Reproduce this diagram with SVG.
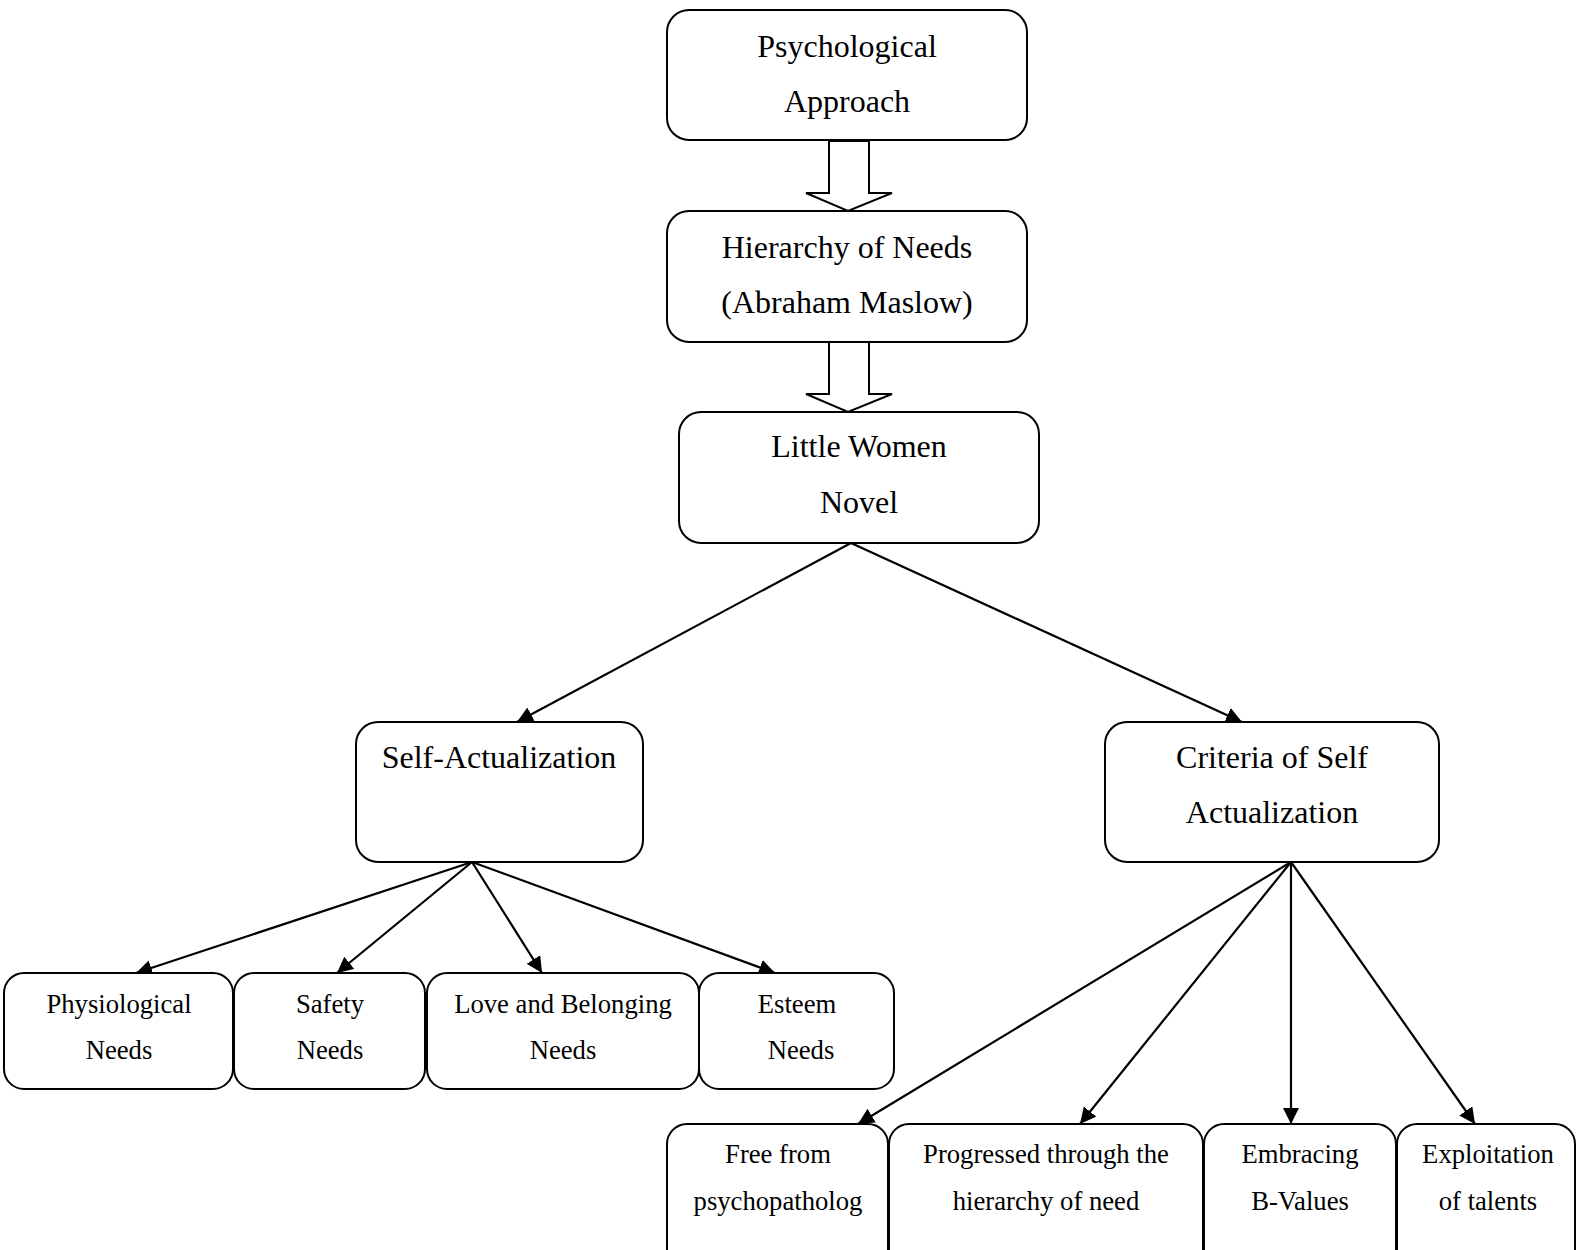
<svg xmlns="http://www.w3.org/2000/svg" width="1576" height="1250" viewBox="0 0 1576 1250">
<style>
.box{fill:#fff;stroke:#000;stroke-width:2}
.big{font-family:"Liberation Serif","Times New Roman",serif;font-size:32px;fill:#000;text-anchor:middle}
.sm{font-family:"Liberation Serif","Times New Roman",serif;font-size:26.67px;fill:#000;text-anchor:middle}
.ln{stroke:#000;stroke-width:2.2;fill:none;marker-end:url(#ah)}
.hollow{fill:#fff;stroke:#000;stroke-width:2}
</style>
<defs>
<marker id="ah" markerUnits="userSpaceOnUse" markerWidth="18" markerHeight="18" refX="16" refY="8" orient="auto">
<path d="M0,0 L16,8 L0,16 z" fill="#000"/>
</marker>
</defs>
<rect width="1576" height="1250" fill="#fff"/>
<g id="connectors">
<polygon class="hollow" points="829,141 829,193 806,193 848,211 892,193 869,193 869,141"/>
<polygon class="hollow" points="829,342 829,394 806,394 848,412 892,394 869,394 869,342"/>
<line class="ln" x1="851" y1="543" x2="517" y2="722"/>
<line class="ln" x1="851" y1="543" x2="1242" y2="722"/>
<line class="ln" x1="472" y1="862" x2="136" y2="973"/>
<line class="ln" x1="472" y1="862" x2="337" y2="973"/>
<line class="ln" x1="472" y1="862" x2="542" y2="973"/>
<line class="ln" x1="472" y1="862" x2="775" y2="973"/>
<line class="ln" x1="1291" y1="862" x2="858" y2="1124"/>
<line class="ln" x1="1291" y1="862" x2="1080" y2="1124"/>
<line class="ln" x1="1291" y1="862" x2="1291" y2="1124"/>
<line class="ln" x1="1291" y1="862" x2="1475" y2="1124"/>
</g>
<g id="psych"><rect class="box" x="667" y="10" width="360" height="130" rx="22"/>
<text class="big" x="847" y="57">Psychological</text><text class="big" x="847" y="112">Approach</text></g>
<g id="hier"><rect class="box" x="667" y="211" width="360" height="131" rx="22"/>
<text class="big" x="847" y="258">Hierarchy of Needs</text><text class="big" x="847" y="313">(Abraham Maslow)</text></g>
<g id="novel"><rect class="box" x="679" y="412" width="360" height="131" rx="22"/>
<text class="big" x="859" y="457">Little Women</text><text class="big" x="859" y="513">Novel</text></g>
<g id="self"><rect class="box" x="356" y="722" width="287" height="140" rx="22"/>
<text class="big" x="499" y="768">Self-Actualization</text></g>
<g id="criteria"><rect class="box" x="1105" y="722" width="334" height="140" rx="22"/>
<text class="big" x="1272" y="768">Criteria of Self</text><text class="big" x="1272" y="823">Actualization</text></g>
<g id="physio"><rect class="box" x="4" y="973" width="229" height="116" rx="20"/>
<text class="sm" x="119" y="1013">Physiological</text><text class="sm" x="119" y="1059">Needs</text></g>
<g id="safety"><rect class="box" x="234" y="973" width="191" height="116" rx="20"/>
<text class="sm" x="330" y="1013">Safety</text><text class="sm" x="330" y="1059">Needs</text></g>
<g id="love"><rect class="box" x="427" y="973" width="272" height="116" rx="20"/>
<text class="sm" x="563" y="1013">Love and Belonging</text><text class="sm" x="563" y="1059">Needs</text></g>
<g id="esteem"><rect class="box" x="699" y="973" width="195" height="116" rx="20"/>
<text class="sm" x="797" y="1013">Esteem</text><text class="sm" x="801" y="1059">Needs</text></g>
<g id="free"><rect class="box" x="667" y="1124" width="221" height="150" rx="20"/>
<text class="sm" x="778" y="1163">Free from</text><text class="sm" x="778" y="1210">psychopatholog</text></g>
<g id="prog"><rect class="box" x="889" y="1124" width="314" height="150" rx="20"/>
<text class="sm" x="1046" y="1163">Progressed through the</text><text class="sm" x="1046" y="1210">hierarchy of need</text></g>
<g id="emb"><rect class="box" x="1204" y="1124" width="192" height="150" rx="20"/>
<text class="sm" x="1300" y="1163">Embracing</text><text class="sm" x="1300" y="1210">B-Values</text></g>
<g id="expl"><rect class="box" x="1397" y="1124" width="178" height="150" rx="20"/>
<text class="sm" x="1488" y="1163">Exploitation</text><text class="sm" x="1488" y="1210">of talents</text></g>
</svg>
